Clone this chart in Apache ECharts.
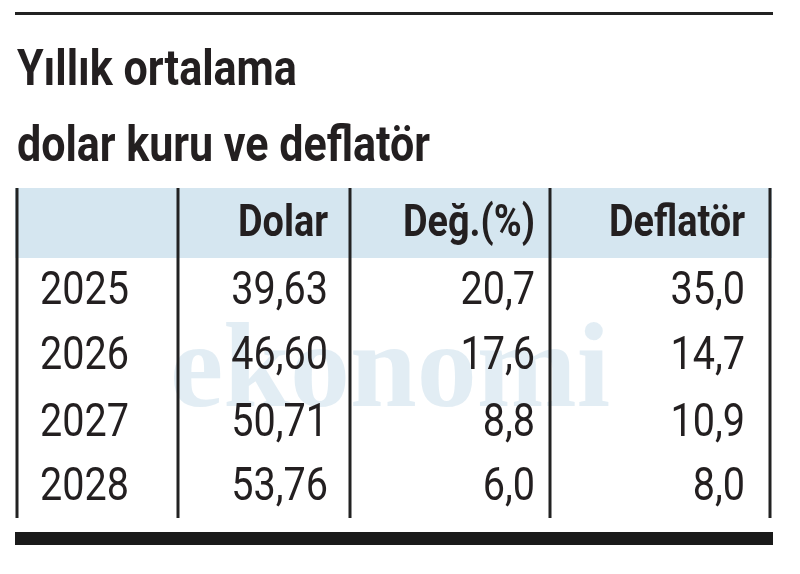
<!DOCTYPE html><html><head><meta charset="utf-8"><script src="https://cdn.jsdelivr.net/npm/echarts@6/dist/echarts.min.js"></script>
<style>html,body{margin:0;background:#fff}#c{width:800px;height:574px}</style></head><body><div id="c"></div><script>
const titleLines=["Yıllık ortalama","dolar kuru ve deflatör"];
const headers=["","Dolar","Değ.(%)","Deflatör"];
const years=["2025","2026","2027","2028"];
const dolar=["39,63","46,60","50,71","53,76"];
const degisim=["20,7","17,6","8,8","6,0"];
const deflator=["35,0","14,7","10,9","8,0"];
const F='Roboto,sans-serif';
const colX=[40,328,535,745], colAlign=['left','right','right','right'];
const rowY=[292,357,424,488];
const g=[];
const sx=0.86;
g.push({type:'rect',shape:{x:15,y:12,width:758,height:3},style:{fill:'#222'}});
titleLines.forEach((t,i)=>g.push({type:'text',x:17,y:[72,148][i],scaleX:sx,style:{text:t,font:'bold 50px '+F,fill:'#231f20',textVerticalAlign:'middle'}}));
g.push({type:'rect',shape:{x:15,y:188,width:757,height:70},style:{fill:'#d5e6f0'}});
g.push({type:'text',x:390,y:375,style:{text:'ekonomi',font:'bold 120px serif',fill:'rgba(190,215,230,0.45)',textAlign:'center',textVerticalAlign:'middle'}});
[17,178,350,550,770].forEach(x=>g.push({type:'rect',shape:{x:x-1.5,y:188,width:3,height:330},style:{fill:'#222'}}));
headers.forEach((h,i)=>g.push({type:'text',x:colX[i],y:225,scaleX:sx,style:{text:h,font:'bold 44px '+F,fill:'#231f20',textAlign:colAlign[i],textVerticalAlign:'middle'}}));
const cols=[years,dolar,degisim,deflator];
cols.forEach((c,i)=>c.forEach((v,r)=>g.push({type:'text',x:colX[i],y:rowY[r],scaleX:sx,style:{text:v,font:'46px '+F,fill:'#231f20',textAlign:colAlign[i],textVerticalAlign:'middle'}})));
g.push({type:'rect',shape:{x:15,y:532,width:758,height:13},style:{fill:'#1a1a1a'}});
echarts.init(document.getElementById('c')).setOption({graphic:g});
</script></body></html>
